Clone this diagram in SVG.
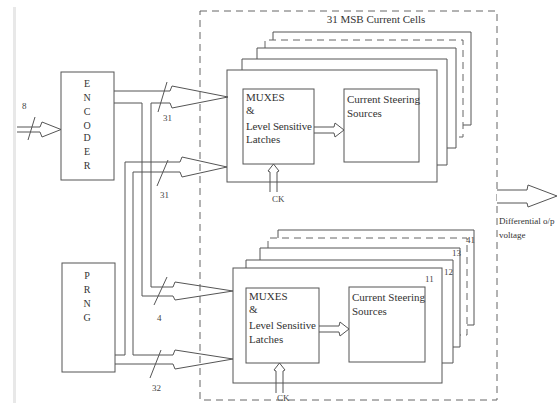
<svg xmlns="http://www.w3.org/2000/svg" width="557" height="403" viewBox="0 0 557 403">
<style>
.ln{fill:none;stroke:#555;stroke-width:1}
.ar{fill:#fff;stroke:#555;stroke-width:1;stroke-linejoin:miter}
.ds{fill:none;stroke:#666;stroke-width:1;stroke-dasharray:7,5}
.t{font-family:"Liberation Serif","DejaVu Serif","Times New Roman",serif;font-size:11px;fill:#333}
.s{font-family:"Liberation Serif","DejaVu Serif","Times New Roman",serif;font-size:9px;fill:#444}
.v{font-family:"Liberation Serif","DejaVu Serif","Times New Roman",serif;font-size:10px;fill:#333;text-anchor:middle}
</style>
<rect x="13" y="7" width="3" height="396" fill="#e8e8e8"/>
<g id="cells-boundary">
<rect class="ds" x="200" y="11" width="297" height="389"/>
<text class="t" x="376" y="23" text-anchor="middle">31 MSB Current Cells</text>
</g>
<g id="connectors">
<path class="ar" d="M17,127 H40 L42,122 L61,129.5 L42,137 L40,132 H17"/>
<line class="ln" x1="28" y1="140" x2="35" y2="117"/>
<text class="s" x="22" y="109">8</text>
<path class="ln" d="M114,91 H170 L172,86 L228,97 L172,108 L170,103 H151 V287 H173 L175,282 L233,291 L175,300 L173,296 H142 V103 H114"/>
<path class="ln" d="M115,355 H125 V162 H180 L182,157 L227,167 L182,177 L180,172 H133 V355 H173 L175,350 L233,359 L175,369 L173,364 H115"/>
<line class="ln" x1="158" y1="112" x2="167" y2="82"/>
<line class="ln" x1="157" y1="186" x2="168" y2="160"/>
<line class="ln" x1="154" y1="305" x2="167" y2="277"/>
<line class="ln" x1="150" y1="378" x2="161" y2="350"/>
<text class="s" x="163" y="121">31</text>
<text class="s" x="160" y="198">31</text>
<text class="s" x="157" y="321">4</text>
<text class="s" x="152" y="391">32</text>
<path class="ar" d="M314,127 H334 L335,123 L344,130 L335,137 L334,133 H314"/>
<path class="ar" d="M319,326 H339 L340,322 L349,329 L340,336 L339,332 H319"/>
<path class="ar" d="M270,192 V172 L268,171 L273.5,164 L279,171 L277,172 V192"/>
<path class="ar" d="M276,393 V371 L274,370 L279.5,363 L285,370 L283,371 V393"/>
<text class="s" x="272" y="202">CK</text>
<text class="s" x="277" y="401">CK</text>
<path class="ar" d="M497,190 H527 L528,185 L557,196 L528,207 L527,203 H497"/>
</g>
<g id="encoder">
<rect class="ln" x="61" y="72" width="53" height="108"/>
<text class="v" x="87" y="87">E</text>
<text class="v" x="87" y="101">N</text>
<text class="v" x="87" y="115">C</text>
<text class="v" x="87" y="129">O</text>
<text class="v" x="87" y="141">D</text>
<text class="v" x="87" y="155">E</text>
<text class="v" x="87" y="169">R</text>
</g>
<g id="prng">
<rect class="ln" x="62" y="263" width="53" height="109"/>
<text class="v" x="87" y="279">P</text>
<text class="v" x="87" y="293">R</text>
<text class="v" x="87" y="307">N</text>
<text class="v" x="87" y="321">G</text>
</g>
<g id="msb-cells">
<path class="ln" d="M273,40 V32 H471 V125 H463"/>
<path class="ds" d="M265,48 V40 H463 V137 H456"/>
<path class="ln" d="M257,59 V48 H456 V148 H447"/>
<path class="ln" d="M242,70 V59 H447 V165 H437"/>
<rect class="ln" x="227" y="70" width="210" height="112" fill="#fff"/>
<rect class="ln" x="243" y="89" width="71" height="75"/>
<text class="t" x="246" y="101">MUXES</text>
<text class="t" x="246" y="114">&amp;</text>
<text class="t" x="246" y="130" textLength="66">Level Sensitive</text>
<text class="t" x="246" y="143">Latches</text>
<rect class="ln" x="344" y="89" width="75" height="73"/>
<text class="t" x="347" y="103">Current Steering</text>
<text class="t" x="347" y="117">Sources</text>
</g>
<g id="lsb-cells">
<path class="ln" d="M278,238 V230 H474 V325 H467"/>
<path class="ds" d="M268,248 V238 H467 V335 H460"/>
<path class="ln" d="M260,260 V248 H460 V347 H453"/>
<path class="ln" d="M246,268 V260 H453 V363 H442"/>
<rect class="ln" x="233" y="268" width="209" height="115"/>
<text class="s" x="466" y="243">41</text>
<text class="s" x="452" y="256">13</text>
<text class="s" x="444" y="275">12</text>
<text class="s" x="425" y="282">11</text>
<rect class="ln" x="246" y="288" width="73" height="75"/>
<text class="t" x="249" y="300">MUXES</text>
<text class="t" x="249" y="313">&amp;</text>
<text class="t" x="249" y="329" textLength="67">Level Sensitive</text>
<text class="t" x="249" y="343">Latches</text>
<rect class="ln" x="349" y="287" width="76" height="75"/>
<text class="t" x="352" y="301">Current Steering</text>
<text class="t" x="352" y="315">Sources</text>
</g>
<g id="output-label">
<text class="t" x="499" y="224" style="font-size:9px">Differential o/p</text>
<text class="t" x="499" y="238" style="font-size:9px">voltage</text>
</g>
</svg>
